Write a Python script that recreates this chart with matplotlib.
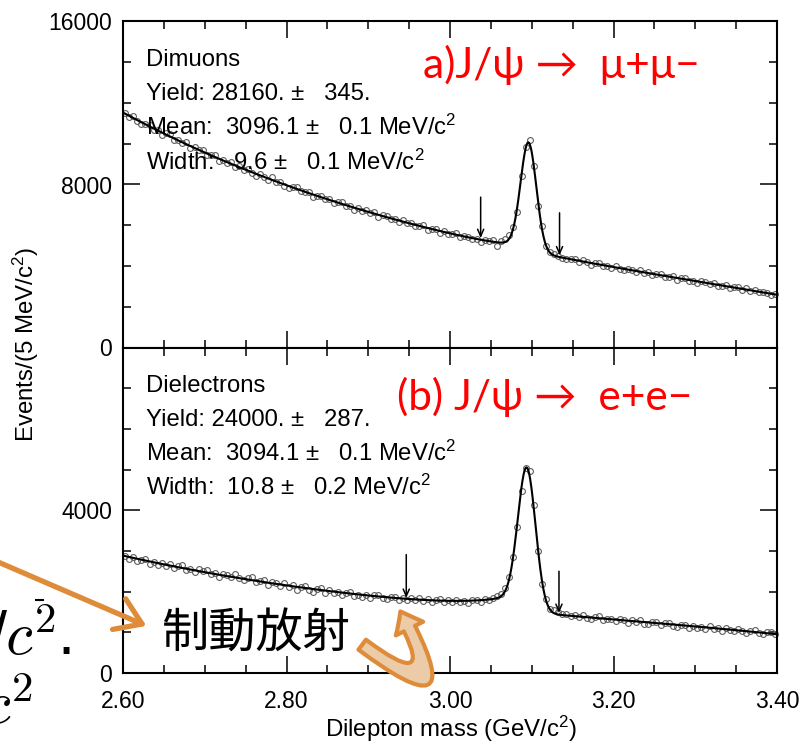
import math
import numpy as np
import matplotlib
matplotlib.use("Agg")
import matplotlib.pyplot as plt
import matplotlib.transforms as mtransforms
from matplotlib.lines import Line2D
from matplotlib.patches import FancyArrowPatch, ArrowStyle
from matplotlib.ticker import MultipleLocator, FixedLocator, FixedFormatter, FormatStrFormatter

plt.rcParams['font.family'] = ['Liberation Sans', 'DejaVu Sans']
plt.rcParams['mathtext.fontset'] = 'custom'
plt.rcParams['mathtext.rm'] = 'Liberation Sans'
plt.rcParams['mathtext.it'] = 'Liberation Sans:italic'
plt.rcParams['mathtext.default'] = 'regular'

# ---- binned dilepton mass spectra (5 MeV bins from 2.600 GeV) ----
BIN_LO = 2.600
BIN_W = 0.005

mumu_counts = [
    11519, 11307, 11355, 11112, 10950, 10978, 10916, 10674, 10651, 10429,
    10505, 10492, 10199, 10196, 10033, 10081, 9778, 9845, 9692, 9679,
    9448, 9464, 9440, 9176, 9202, 9068, 9124, 8870, 8906, 8722,
    8762, 8556, 8410, 8504, 8378, 8222, 8356, 8120, 8114, 7928,
    7836, 7877, 7879, 7670, 7631, 7643, 7404, 7456, 7447, 7268,
    7293, 7101, 7139, 7157, 6935, 6944, 6772, 6850, 6718, 6756,
    6577, 6651, 6405, 6479, 6453, 6287, 6291, 6146, 6240, 6094,
    6111, 5950, 5980, 5999, 5788, 5808, 5797, 5617, 5716, 5595,
    5547, 5606, 5445, 5494, 5423, 5312, 5333, 5168, 5286, 5250,
    5285, 5006, 5230, 5334, 5497, 5904, 6641, 8393, 9850, 10193,
    8898, 6969, 5939, 5006, 4700, 4598, 4515, 4402, 4330, 4353,
    4328, 4191, 4285, 4198, 4052, 4135, 4129, 3992, 4006, 3889,
    4004, 3869, 3784, 3869, 3794, 3690, 3805, 3650, 3685, 3560,
    3606, 3612, 3459, 3465, 3501, 3328, 3394, 3390, 3266, 3283,
    3189, 3246, 3233, 3109, 3176, 3033, 3040, 3056, 2913, 2970,
    2946, 2833, 2899, 2785, 2822, 2708, 2745, 2661, 2587, 2624,
]

ee_counts = [
    2866, 2808, 2850, 2753, 2775, 2807, 2690, 2732, 2644, 2707,
    2639, 2682, 2574, 2626, 2659, 2541, 2564, 2476, 2558, 2501,
    2533, 2426, 2468, 2371, 2444, 2406, 2349, 2421, 2324, 2277,
    2330, 2353, 2236, 2249, 2282, 2156, 2239, 2202, 2145, 2208,
    2112, 2167, 2051, 2116, 2130, 2045, 1999, 2064, 2078, 1963,
    2030, 1959, 1998, 1907, 1956, 1985, 1894, 1913, 1862, 1921,
    1852, 1905, 1918, 1841, 1814, 1867, 1880, 1803, 1836, 1799,
    1843, 1798, 1844, 1769, 1815, 1750, 1796, 1811, 1757, 1792,
    1748, 1806, 1735, 1775, 1726, 1798, 1792, 1748, 1826, 1786,
    1850, 1890, 1930, 2090, 2360, 2850, 3600, 4480, 5040, 4960,
    4130, 3010, 2190, 1810, 1570, 1540, 1500, 1440, 1450, 1400,
    1428, 1369, 1420, 1361, 1322, 1373, 1394, 1305, 1326, 1337,
    1288, 1339, 1299, 1240, 1301, 1252, 1303, 1213, 1194, 1245,
    1246, 1177, 1218, 1240, 1161, 1132, 1174, 1185, 1116, 1147,
    1109, 1141, 1083, 1145, 1087, 1108, 1040, 1102, 1064, 1026,
    1078, 1030, 992, 1044, 1056, 988, 950, 1002, 1014, 966,
]

# fit results (yield, mean [MeV], width [MeV]) with errors
mumu_yield, mumu_yield_err = 28160, 345
mumu_mean, mumu_mean_err = 3096.1, 0.1
mumu_width, mumu_width_err = 9.6, 0.1
ee_yield, ee_yield_err = 24000, 287
ee_mean, ee_mean_err = 3094.1, 0.1
ee_width, ee_width_err = 10.8, 0.2

# radiative-tail slope used in the signal shape [GeV]
mumu_tail = 0.030
ee_tail = 0.060

# signal window markers: mass [GeV], arrow top, arrow tip [events]
mumu_window = [3.0375, 3.134]
mumu_arrow_top = [7380, 6610]
mumu_arrow_tip = [5370, 4520]
ee_window = [2.9465, 3.1333]
ee_arrow_top = [2910, 2500]
ee_arrow_tip = [1845, 1475]

_erfc = np.vectorize(math.erfc)


def shape_basis(m, mean, width, tail):
    t = (m - 3.0) / 0.4
    g = np.exp(-0.5 * ((m - mean) / width) ** 2)
    z = ((m - mean) / width + width / tail) / np.sqrt(2.0)
    emg = 0.5 * np.exp((m - mean) / tail + width ** 2 / (2 * tail ** 2)) * _erfc(z)
    return np.column_stack([t ** 0, t, t ** 2, t ** 3, g, emg])


def fitted_curve(m_data, counts, mean, width, tail, m_eval):
    A = shape_basis(m_data, mean, width, tail)
    coef, *_ = np.linalg.lstsq(A, np.asarray(counts, float), rcond=None)
    return shape_basis(m_eval, mean, width, tail) @ coef


W, H = 801, 744
fig = plt.figure(figsize=(W / 100, H / 100), dpi=100)
px = mtransforms.Affine2D().scale(1 / W, -1 / H).translate(0, 1) + fig.transFigure

ax_l, ax_w = 123 / W, 654 / W
ax1 = fig.add_axes([ax_l, 1 - 347.5 / H, ax_w, 326 / H])
ax2 = fig.add_axes([ax_l, 1 - 673 / H, ax_w, 325.5 / H], sharex=ax1)

orange = '#DE8C3A'
tan = '#EBCBA8'
red = '#FF0000'
STAT_FS = 17.2


def draw_panel(ax, counts, mean, width, tail, window, a_top, a_tip,
               ymax, ymajor, yminor, ylabels, stats, title, title_xy):
    n = len(counts)
    m = BIN_LO + BIN_W * (np.arange(n) + 0.5)
    mf = np.linspace(2.6, 3.4, 1601)
    curve = fitted_curve(m, counts, mean / 1000, width / 1000, tail, mf)
    ax.plot(m, counts, 'o', ms=4.2, mfc='none', mec='#5e5e5e', mew=0.8,
            zorder=2, clip_on=False)
    ax.plot(mf, curve, color='black', lw=1.5, zorder=3)
    for x, yt, yb in zip(window, a_top, a_tip):
        ax.annotate('', xy=(x, yb), xytext=(x, yt),
                    arrowprops=dict(arrowstyle='->,head_length=0.5,head_width=0.22',
                                    lw=1.1, color='black', shrinkA=0, shrinkB=0))
    ax.set_xlim(2.6, 3.4)
    ax.set_ylim(0, ymax)
    ax.yaxis.set_major_locator(FixedLocator(ymajor))
    ax.yaxis.set_major_formatter(FixedFormatter(ylabels))
    ax.yaxis.set_minor_locator(MultipleLocator(yminor))
    ax.xaxis.set_major_locator(MultipleLocator(0.2))
    ax.xaxis.set_minor_locator(MultipleLocator(0.05))
    ax.xaxis.set_major_formatter(FormatStrFormatter('%.2f'))
    ax.tick_params(which='both', direction='in', top=True, right=True,
                   width=1.1, labelsize=16.5, colors='black')
    ax.tick_params(which='major', length=12, pad=8)
    ax.tick_params(which='minor', length=6)
    for s in ax.spines.values():
        s.set_linewidth(1.5)
    ys = [0.864, 0.759, 0.651, 0.546]
    for txt, y in zip(stats, ys):
        ax.text(0.035, y, txt, transform=ax.transAxes, fontsize=STAT_FS,
                va='baseline', ha='left', zorder=4)
    ax.text(title_xy[0], title_xy[1], title, transform=ax.transAxes,
            fontsize=30.5, color=red, va='baseline', ha='left',
            family=['Lato', 'Noto Sans', 'DejaVu Sans'])


def stats_lines(name, y, ye, mu, mue, w, we):
    return [name,
            f'Yield: {y:.0f}. \u00b1   {ye:.0f}.',
            f'Mean:  {mu:.1f} \u00b1   {mue:.1f} MeV/c$^2$',
            f'Width: {w:5.1f} \u00b1   {we:.1f} MeV/c$^2$']


draw_panel(ax1, mumu_counts, mumu_mean, mumu_width, mumu_tail,
           mumu_window, mumu_arrow_top, mumu_arrow_tip,
           16000, [0, 8000, 16000], 2000, ['0', '8000', '16000'],
           stats_lines('Dimuons', mumu_yield, mumu_yield_err, mumu_mean,
                       mumu_mean_err, mumu_width, mumu_width_err),
           'a)J/\u03c8 \u2192  \u03bc+\u03bc\u2212', (0.459, 0.828))
draw_panel(ax2, ee_counts, ee_mean, ee_width, ee_tail,
           ee_window, ee_arrow_top, ee_arrow_tip,
           8000, [0, 4000, 8000], 1000, ['0', '4000', ''],
           stats_lines('Dielectrons', ee_yield, ee_yield_err, ee_mean,
                       ee_mean_err, ee_width, ee_width_err),
           '(b) J/\u03c8 \u2192  e+e\u2212', (0.419, 0.808))

ax1.tick_params(axis='x', labelbottom=False)
ax2.tick_params(axis='x', pad=12)

fig.text(26 / W, 1 - 345 / H, 'Events/(5 MeV/c$^2$)', rotation=90,
         fontsize=17.3, ha='center', va='center')
fig.text(451 / W, 1 - 737 / H, 'Dilepton mass (GeV/c$^2$)',
         fontsize=17.3, ha='center', va='baseline')

# slide overlays
fig.text(-11, 655, r'$/\mathit{c}^{\mathrm{2}}.$', transform=px, fontsize=44,
         math_fontfamily='cm', ha='left', va='baseline')
fig.text(-17, 724, r'$\mathit{c}^{\mathrm{2}}$', transform=px, fontsize=44,
         math_fontfamily='cm', ha='left', va='baseline')
fig.add_artist(Line2D([36, 43], [600, 600], transform=px, color='black', lw=1.5))

fig.text(256, 634, '制動放射', transform=px, fontsize=34,
         family=['Noto Sans CJK JP', 'DejaVu Sans'], ha='center', va='center',
         zorder=10)

straight = FancyArrowPatch(posA=(-60, 537), posB=(149, 627), transform=px,
                           arrowstyle=ArrowStyle('->', head_length=0.45, head_width=0.3),
                           mutation_scale=40, lw=3.8, color=orange,
                           capstyle='round', joinstyle='round', zorder=10)
straight.set_clip_on(False)
fig.add_artist(straight)

curved = FancyArrowPatch(posA=(360, 643), posB=(399, 609), transform=px,
                         connectionstyle='arc3,rad=2.4',
                         arrowstyle=ArrowStyle('simple', head_length=14, head_width=22,
                                               tail_width=9),
                         mutation_scale=1, lw=3, facecolor=tan, edgecolor=orange,
                         zorder=10)
curved.set_clip_on(False)
fig.add_artist(curved)

fig.savefig('out.png', dpi=100)
